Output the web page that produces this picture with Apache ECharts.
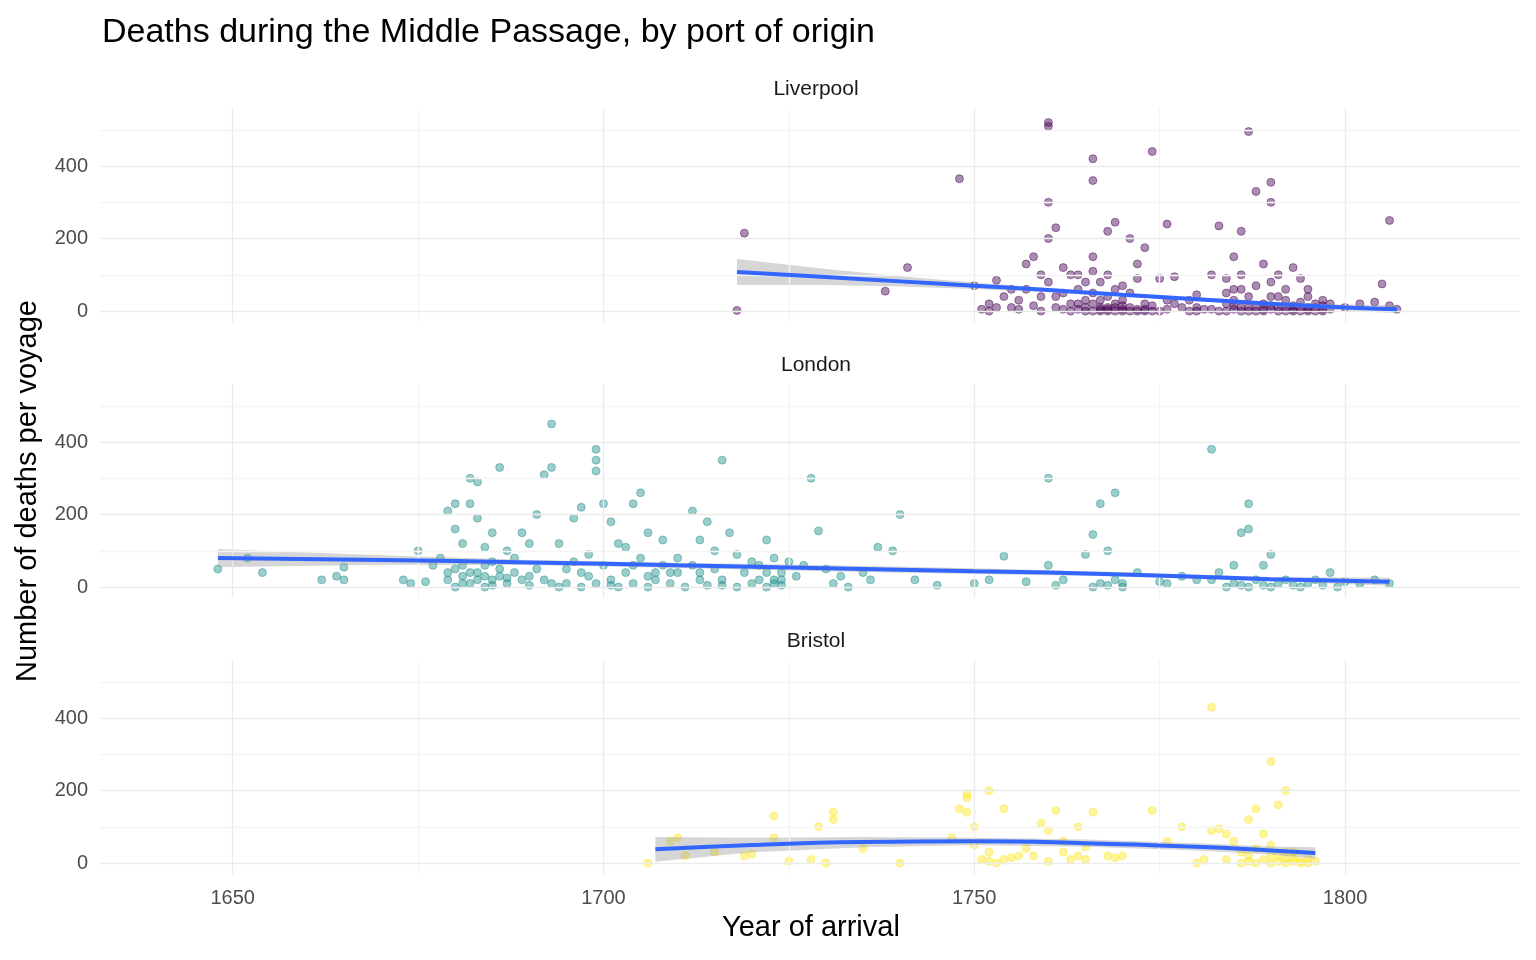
<!DOCTYPE html>
<html><head><meta charset="utf-8">
<script src="https://cdn.jsdelivr.net/npm/echarts@6/dist/echarts.min.js"></script>
<style>html,body{margin:0;background:#fff}#c{width:1536px;height:960px}</style>
</head><body><div id="c"></div>
<script>
// ports and colours
var ports = ['Liverpool', 'London', 'Bristol'];
var portColors = ['#440154', '#21908C', '#FDE725'];

// deaths per voyage, [year, deaths]
var liverpool = [[1718,2],[1719,215],[1741,120],[1738,55],[1748,365],[1750,70],[1752,0],[1752,20],[1753,85],[1754,40],[1755,10],[1756,30],[1757,60],[1757,130],[1758,150],[1759,40],[1759,100],[1760,520],[1760,510],[1760,300],[1760,200],[1761,230],[1761,10],[1762,50],[1763,100],[1764,20],[1765,0],[1765,80],[1766,420],[1766,360],[1766,150],[1767,30],[1767,10],[1768,220],[1768,100],[1769,245],[1769,60],[1770,5],[1771,200],[1772,130],[1773,175],[1773,20],[1774,440],[1775,90],[1776,240],[1776,30],[1777,95],[1778,10],[1779,0],[1780,45],[1782,100],[1783,235],[1784,20],[1785,150],[1785,60],[1786,220],[1786,10],[1787,495],[1788,330],[1789,130],[1790,355],[1790,300],[1790,80],[1791,40],[1792,10],[1793,120],[1793,0],[1794,90],[1795,60],[1795,5],[1796,20],[1797,30],[1798,5],[1800,10],[1802,20],[1804,25],[1805,75],[1806,250],[1807,5],[1806,15],
 [1751,5],[1753,10],[1755,60],[1756,5],[1758,15],[1759,0],[1761,40],[1762,5],[1763,20],[1764,60],[1765,30],[1766,0],[1766,50],[1767,80],[1767,0],[1768,10],[1768,40],[1769,0],[1769,20],[1770,70],[1770,30],[1771,10],[1771,50],[1772,0],[1772,90],[1773,5],[1774,15],[1775,0],[1776,5],[1777,20],[1779,30],[1780,10],[1783,0],[1784,50],[1784,90],[1785,5],[1785,30],[1786,100],[1786,60],[1787,0],[1787,40],[1788,10],[1788,70],[1789,0],[1789,20],[1790,5],[1790,40],[1791,0],[1791,100],[1792,30],[1792,60],[1793,15],[1794,0],[1794,25],[1795,10],[1795,40],[1796,0],[1797,5],[1797,15],[1798,20],[1760,80],[1762,120],[1764,100],[1766,110],[1768,5],[1770,0],[1782,5],
 [1763,0],[1764,5],[1765,10],[1766,20],[1767,5],[1768,0],[1769,10],[1770,15],[1771,0],[1772,5],[1773,0],[1774,0],[1780,0],[1781,5],[1784,0],[1785,15],[1786,0],[1787,10],[1788,0],[1789,5],[1790,15],[1791,10],[1792,0],[1793,5],[1794,10],[1795,0],[1796,10],[1797,0]];
var london = [[1648,50],[1652,80],[1654,40],[1662,20],[1664,30],[1665,55],[1665,20],[1673,20],[1674,10],[1675,100],[1676,15],[1677,60],[1678,80],[1679,210],[1679,40],[1680,230],[1680,160],[1681,120],[1681,30],[1682,300],[1682,230],[1683,290],[1683,190],[1684,60],[1685,150],[1685,20],[1686,330],[1687,100],[1688,40],[1689,150],[1690,120],[1691,200],[1692,310],[1693,450],[1693,330],[1694,120],[1695,50],[1696,190],[1697,220],[1698,90],[1699,380],[1699,350],[1699,320],[1700,230],[1701,180],[1702,120],[1703,110],[1704,230],[1705,260],[1706,150],[1707,40],[1708,130],[1710,80],[1712,210],[1713,130],[1714,180],[1715,100],[1716,350],[1717,150],[1718,90],[1720,70],[1722,130],[1723,80],[1724,40],[1727,60],[1728,300],[1729,155],[1730,50],[1732,30],[1735,40],[1737,110],[1739,100],[1740,200],[1742,20],[1750,10],[1754,85],[1757,15],[1760,60],[1760,300],[1762,20],[1765,90],[1766,145],[1767,230],[1768,100],[1769,260],[1770,10],[1772,40],[1775,15],[1778,30],[1780,20],[1782,380],[1783,40],[1785,60],[1786,150],[1787,230],[1787,160],[1789,60],[1790,90],[1792,20],[1795,10],[1798,40],[1800,15],[1804,20],[1806,10],
 [1679,20],[1680,0],[1681,60],[1682,10],[1683,40],[1684,0],[1684,110],[1685,70],[1686,30],[1687,10],[1688,80],[1689,20],[1690,5],[1691,50],[1692,20],[1694,0],[1695,10],[1696,70],[1697,0],[1698,30],[1699,10],[1700,60],[1701,20],[1702,0],[1703,40],[1704,10],[1705,80],[1706,0],[1707,20],[1708,60],[1709,10],[1710,40],[1711,0],[1712,60],[1713,20],[1714,5],[1715,50],[1716,20],[1718,0],[1719,40],[1720,10],[1721,60],[1722,0],[1723,20],[1724,5],[1725,70],[1726,30],[1731,10],[1733,0],[1736,20],[1745,5],[1752,20],[1761,5],[1766,0],[1767,10],[1768,5],[1769,20],[1770,0],[1776,10],[1782,20],[1784,0],[1785,10],[1786,5],[1787,0],[1788,20],[1789,5],[1790,0],[1791,10],[1793,5],[1794,0],[1796,20],[1797,5],[1799,0],[1802,10],
 [1680,50],[1681,10],[1682,40],[1683,20],[1684,30],[1685,5],[1686,50],[1687,25],[1690,30],[1693,10],[1697,40],[1701,5],[1704,60],[1706,30],[1709,40],[1713,40],[1716,5],[1721,20],[1722,40],[1723,10],[1724,20]];
var bristol = [[1706,0],[1709,60],[1710,70],[1711,20],[1715,30],[1719,20],[1720,25],[1723,130],[1723,70],[1725,5],[1728,10],[1729,100],[1730,0],[1731,140],[1731,120],[1735,40],[1740,0],[1747,70],[1748,150],[1749,190],[1749,180],[1749,140],[1750,100],[1750,50],[1752,200],[1752,30],[1754,150],[1754,10],[1756,20],[1758,20],[1759,110],[1760,90],[1761,145],[1762,30],[1763,10],[1764,100],[1765,10],[1766,140],[1768,20],[1770,20],[1774,145],[1776,60],[1778,100],[1781,10],[1782,90],[1782,430],[1783,95],[1784,80],[1785,60],[1786,0],[1787,20],[1787,120],[1788,150],[1789,80],[1790,20],[1790,280],[1791,160],[1792,200],[1792,30],[1793,5],[1794,0],[1795,10],[1796,5],
 [1751,10],[1752,5],[1753,0],[1755,15],[1757,40],[1760,5],[1762,60],[1764,20],[1765,45],[1769,15],[1780,0],[1784,10],[1786,30],[1787,5],[1788,0],[1788,40],[1789,10],[1790,0],[1790,50],[1791,5],[1791,20],[1792,0],[1792,10],[1793,15],[1793,30],[1794,5],[1795,0]];
var portData = [liverpool, london, bristol];

// smooth fits: [year, fit, lower, upper]
var fitLiverpool = [[1718,108,72,144],[1730,94,72,116],[1740,82,68,96],[1750,70,61,79],[1760,58,52,64],[1770,45,40,50],[1780,33,27,39],[1790,20,14,26],[1800,10,2,18],[1807,5,-6,16]];
var fitLondon = [[1648,80,55,105],[1670,75,62,88],[1690,68,61,75],[1710,60,53,67],[1730,52,44,60],[1750,44,36,52],[1770,35,29,41],[1790,22,16,28],[1806,15,4,26]];
var fitBristol = [[1707,38,4,72],[1720,50,30,70],[1735,58,44,72],[1750,60,50,70],[1765,55,45,65],[1780,45,35,55],[1790,35,24,46],[1796,28,12,44]];
var fits = [fitLiverpool, fitLondon, fitBristol];

var xTicks = [1650, 1700, 1750, 1800];
var xMinor = [1675, 1725, 1775];
var yTicks = [0, 200, 400];
var yMinor = [100, 300, 500];

var tops = [108, 384, 660];
var grids = [], xAxes = [], yAxes = [], series = [], titles = [];
for (var i = 0; i < 3; i++) {
  grids.push({left: 100, width: 1420, top: tops[i], height: 214});
  xAxes.push({type: 'value', gridIndex: i, min: 1632.1, max: 1823.6,
    axisLine: {show: false}, axisTick: {show: false}, splitLine: {show: false},
    axisLabel: {show: i == 2, customValues: xTicks, color: '#4D4D4D', fontSize: 20, margin: 14, fontFamily: 'Arial',
      formatter: function (v) { return String(v); }}});
  yAxes.push({type: 'value', gridIndex: i, min: -30, max: 560,
    axisLine: {show: false}, axisTick: {show: false}, splitLine: {show: false},
    axisLabel: {customValues: yTicks, color: '#4D4D4D', fontSize: 20, margin: 12, fontFamily: 'Arial'}});
  titles.push({text: ports[i], left: 811, textAlign: 'center', top: tops[i] - 34,
    textStyle: {fontSize: 21, fontWeight: 'normal', color: '#1A1A1A', fontFamily: 'Arial'}});

  var lines = [];
  xMinor.forEach(function (v) { lines.push({xAxis: v, lineStyle: {color: '#F4F4F4'}}); });
  yMinor.forEach(function (v) { lines.push({yAxis: v, lineStyle: {color: '#F4F4F4'}}); });
  xTicks.forEach(function (v) { lines.push({xAxis: v, lineStyle: {color: '#EBEBEB'}}); });
  yTicks.forEach(function (v) { lines.push({yAxis: v, lineStyle: {color: '#EBEBEB'}}); });
  series.push({type: 'line', xAxisIndex: i, yAxisIndex: i, data: [], silent: true,
    markLine: {silent: true, symbol: 'none', label: {show: false}, animation: false,
      lineStyle: {type: 'solid', width: 1.3}, data: lines}});

  series.push({type: 'scatter', xAxisIndex: i, yAxisIndex: i, data: portData[i], symbolSize: 8,
    itemStyle: {color: portColors[i], opacity: 0.45, borderColor: portColors[i], borderWidth: 1}, z: 3});

  // confidence band as a polygon from the fit table
  (function (f) {
    series.push({type: 'custom', xAxisIndex: i, yAxisIndex: i, data: [0], z: 4, silent: true,
      renderItem: function (params, api) {
        var pts = [];
        f.forEach(function (p) { pts.push(api.coord([p[0], p[3]])); });
        f.slice().reverse().forEach(function (p) { pts.push(api.coord([p[0], p[2]])); });
        return {type: 'polygon', shape: {points: pts}, style: {fill: 'rgba(153,153,153,0.4)'}};
      }});
  })(fits[i]);
  series.push({type: 'line', xAxisIndex: i, yAxisIndex: i, symbol: 'none', smooth: true,
    data: fits[i].map(function (p) { return [p[0], p[1]]; }), lineStyle: {color: '#3366FF', width: 4}, z: 5});
}
titles.push({text: 'Deaths during the Middle Passage, by port of origin', left: 97, top: 11,
  textStyle: {fontSize: 34, fontWeight: 'normal', color: '#000', fontFamily: 'Arial'}});

var myChart = echarts.init(document.getElementById('c'));
myChart.setOption({
  animation: false,
  title: titles,
  grid: grids,
  xAxis: xAxes,
  yAxis: yAxes,
  series: series,
  graphic: [
    {type: 'text', left: 722, top: 913, style: {text: 'Year of arrival', fontSize: 29, fill: '#000', fontFamily: 'Arial'}},
    {type: 'text', left: 13, top: 300, rotation: Math.PI / 2, style: {text: 'Number of deaths per voyage', fontSize: 29, fill: '#000', fontFamily: 'Arial'}}
  ]
});
</script></body></html>
